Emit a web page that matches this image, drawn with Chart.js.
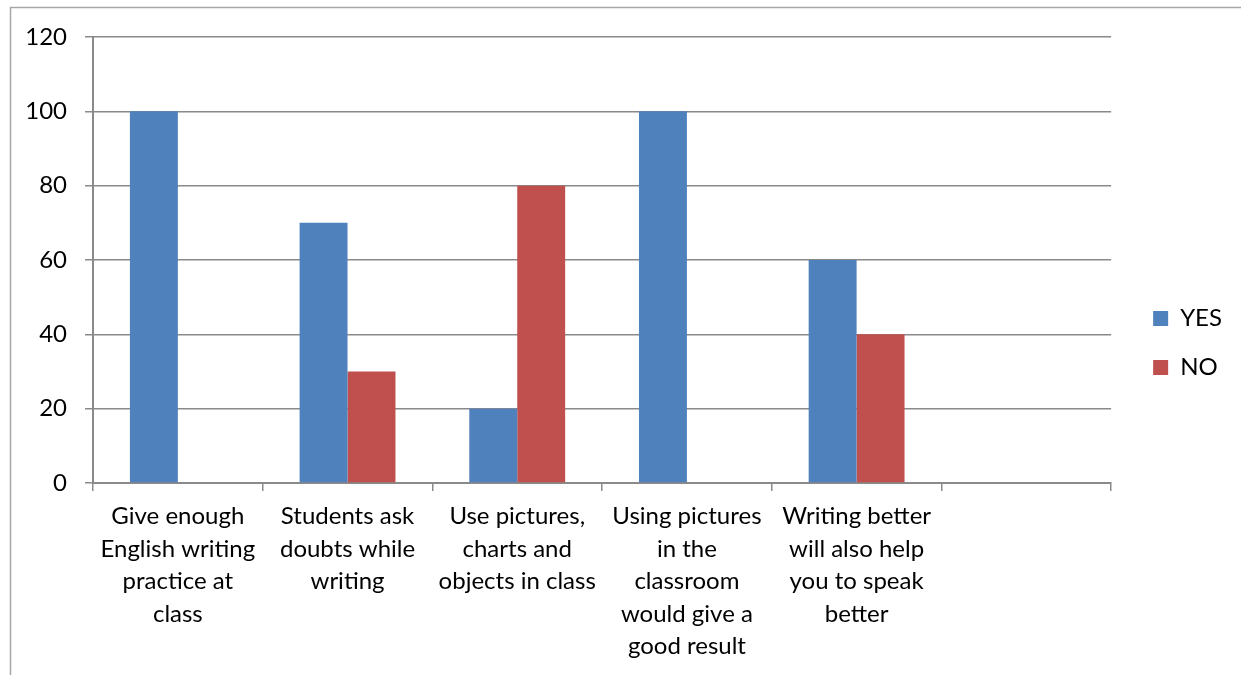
<!DOCTYPE html>
<html>
<head>
<meta charset="utf-8">
<script src="https://cdn.jsdelivr.net/npm/chart.js@4/dist/chart.umd.min.js"></script>
<style>
  html, body { margin: 0; padding: 0; background: #fff; }
  #wrap { position: relative; width: 1241px; height: 675px; }
  canvas { display: block; }
</style>
</head>
<body>
<div id="wrap"><canvas id="c" width="1241" height="675"></canvas></div>
<script>
// Survey questions (wrapped into lines), last slot left blank
const categories = [
  ['Give enough', 'English writing', 'practice at', 'class'],
  ['Students ask', 'doubts while', 'writing'],
  ['Use pictures,', 'charts and', 'objects in class'],
  ['Using pictures', 'in the', 'classroom', 'would give a', 'good result'],
  ['Writing better', 'will also help', 'you to speak', 'better'],
  ''
];
const yesValues = [100, 70, 20, 100, 60, null];
const noValues  = [0, 30, 80, 0, 40, null];
const yTicks = [0, 20, 40, 60, 80, 100, 120];

const FONT = 'Lato, "Open Sans", sans-serif';
const GRID = '#8a8a8a';

// thin frame around the whole chart
const framePlugin = {
  id: 'frame',
  beforeDraw(chart) {
    const ctx = chart.ctx;
    ctx.save();
    ctx.strokeStyle = '#a6a6a6';
    ctx.lineWidth = 1.5;
    ctx.beginPath();
    ctx.moveTo(10.5, chart.height);
    ctx.lineTo(10.5, 7.5);
    ctx.lineTo(chart.width, 7.5);
    ctx.stroke();
    ctx.restore();
  }
};

// nudge the legend block a little right and up from its default slot
const legendOffset = { dx: 17, dy: -13 };
const legendNudgePlugin = {
  id: 'legendNudge',
  afterLayout(chart) {
    const lg = chart.legend;
    if (!lg) return;
    lg.left += legendOffset.dx;
    lg.right += legendOffset.dx;
    lg.top += legendOffset.dy;
    lg.bottom += legendOffset.dy;
  }
};

new Chart(document.getElementById('c'), {
  type: 'bar',
  data: {
    labels: categories,
    datasets: [
      { label: 'YES', data: yesValues, backgroundColor: '#4F81BD', borderWidth: 0 },
      { label: 'NO',  data: noValues,  backgroundColor: '#C0504D', borderWidth: 0 }
    ]
  },
  options: {
    responsive: false,
    animation: false,
    devicePixelRatio: 1,
    layout: { padding: { top: 37, right: 26, bottom: 0, left: 0 } },
    datasets: { bar: { categoryPercentage: 0.565, barPercentage: 1.0 } },
    plugins: {
      tooltip: { enabled: false },
      legend: {
        position: 'right',
        labels: {
          color: '#000',
          font: { family: FONT, size: 24 },
          boxWidth: 15,
          boxHeight: 15,
          padding: 25
        }
      }
    },
    scales: {
      x: {
        grid: {
          display: true,
          drawOnChartArea: false,
          drawTicks: true,
          tickLength: 8,
          color: GRID,
          lineWidth: 1.5
        },
        border: { color: GRID, width: 2 },
        ticks: {
          color: '#000',
          font: { family: FONT, size: 24, lineHeight: 1.355 },
          padding: 9,
          maxRotation: 0,
          autoSkip: false
        },
        afterFit(scale) { scale.height = 192; }
      },
      y: {
        min: 0,
        max: 120,
        afterBuildTicks(scale) { scale.ticks = yTicks.map(v => ({ value: v })); },
        grid: {
          color: GRID,
          lineWidth: 1.5,
          tickLength: 8
        },
        border: { color: GRID, width: 2 },
        ticks: {
          color: '#000',
          font: { family: FONT, size: 24 },
          padding: 18
        },
        afterFit(scale) { scale.width = 93; }
      }
    }
  },
  plugins: [framePlugin, legendNudgePlugin]
});
</script>
</body>
</html>
